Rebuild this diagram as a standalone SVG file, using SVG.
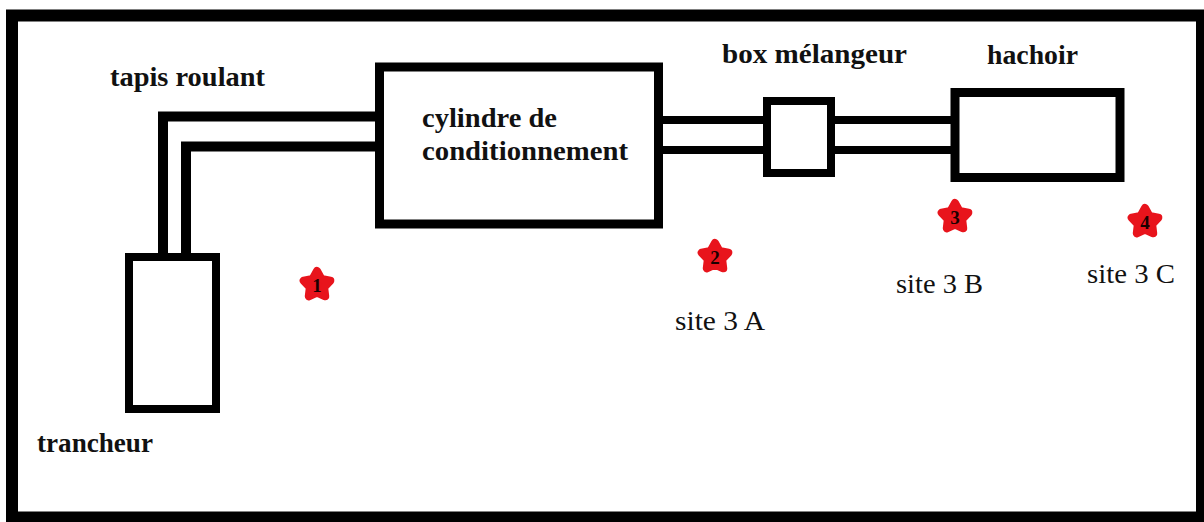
<svg xmlns="http://www.w3.org/2000/svg" width="1204" height="522" viewBox="0 0 1204 522">
<defs>
<style>
.box{fill:#fff;stroke:#000}
.pipe{fill:none;stroke:#000;stroke-linejoin:miter}
.lbl{font-family:"Liberation Serif","Times New Roman",serif;font-weight:bold;font-size:28px;fill:#111}
.site{font-family:"Liberation Serif","Times New Roman",serif;font-size:28px;fill:#111}
.star{fill:#e8141c;stroke:#e8141c;stroke-width:8;stroke-linejoin:round}
.num{font-family:"Liberation Serif","Times New Roman",serif;font-weight:bold;font-size:19px;fill:#1a0000;text-anchor:middle}
</style>
<polygon id="starShape" class="star" points="0,-14 4.41,-6.07 13.31,-4.33 7.13,2.32 8.23,11.33 0,7.5 -8.23,11.33 -7.13,2.32 -13.31,-4.33 -4.41,-6.07"/>
</defs>
<rect x="0" y="0" width="1204" height="522" fill="#fff"/>
<rect id="frame" x="12" y="15.5" width="1190" height="502" fill="none" stroke="#000" stroke-width="12"/>
<g id="connectors">
<polyline class="pipe" stroke-width="10" points="163,253 163,116.5 376,116.5"/>
<polyline class="pipe" stroke-width="10" points="186,253 186,146.5 376,146.5"/>
<line class="pipe" stroke-width="8" x1="662" y1="120" x2="764" y2="120"/>
<line class="pipe" stroke-width="8" x1="662" y1="150" x2="764" y2="150"/>
<line class="pipe" stroke-width="8" x1="834" y1="120" x2="952" y2="120"/>
<line class="pipe" stroke-width="8" x1="834" y1="150" x2="952" y2="150"/>
</g>
<g id="trancheur">
<rect class="box" x="129" y="257" width="87" height="152" stroke-width="8"/>
<text class="lbl" x="37" y="452" textLength="116" lengthAdjust="spacingAndGlyphs">trancheur</text>
</g>
<g id="tapis">
<text class="lbl" x="110" y="86" textLength="155" lengthAdjust="spacingAndGlyphs">tapis roulant</text>
</g>
<g id="cylindre">
<rect class="box" x="379.5" y="67" width="279" height="157" stroke-width="9"/>
<text class="lbl" x="422" y="127" textLength="135" lengthAdjust="spacingAndGlyphs">cylindre de</text>
<text class="lbl" x="422" y="160" textLength="206" lengthAdjust="spacingAndGlyphs">conditionnement</text>
</g>
<g id="melangeur">
<rect class="box" x="767" y="101" width="64" height="72" stroke-width="8"/>
<text class="lbl" x="722" y="63" textLength="185" lengthAdjust="spacingAndGlyphs">box mélangeur</text>
</g>
<g id="hachoir">
<rect class="box" x="955" y="92.5" width="165" height="85" stroke-width="9"/>
<text class="lbl" x="987" y="64" textLength="91" lengthAdjust="spacingAndGlyphs">hachoir</text>
</g>
<g id="site1">
<use href="#starShape" x="317" y="285"/>
<text class="num" x="317" y="292">1</text>
</g>
<g id="site2">
<use href="#starShape" x="715" y="257"/>
<text class="num" x="715" y="264">2</text>
<text class="site" x="675" y="330" textLength="90" lengthAdjust="spacingAndGlyphs">site 3 A</text>
</g>
<g id="site3">
<use href="#starShape" x="955" y="217"/>
<text class="num" x="955" y="224">3</text>
<text class="site" x="896" y="293" textLength="87" lengthAdjust="spacingAndGlyphs">site 3 B</text>
</g>
<g id="site4">
<use href="#starShape" x="1145" y="222"/>
<text class="num" x="1145" y="229">4</text>
<text class="site" x="1087" y="283" textLength="88" lengthAdjust="spacingAndGlyphs">site 3 C</text>
</g>
</svg>
